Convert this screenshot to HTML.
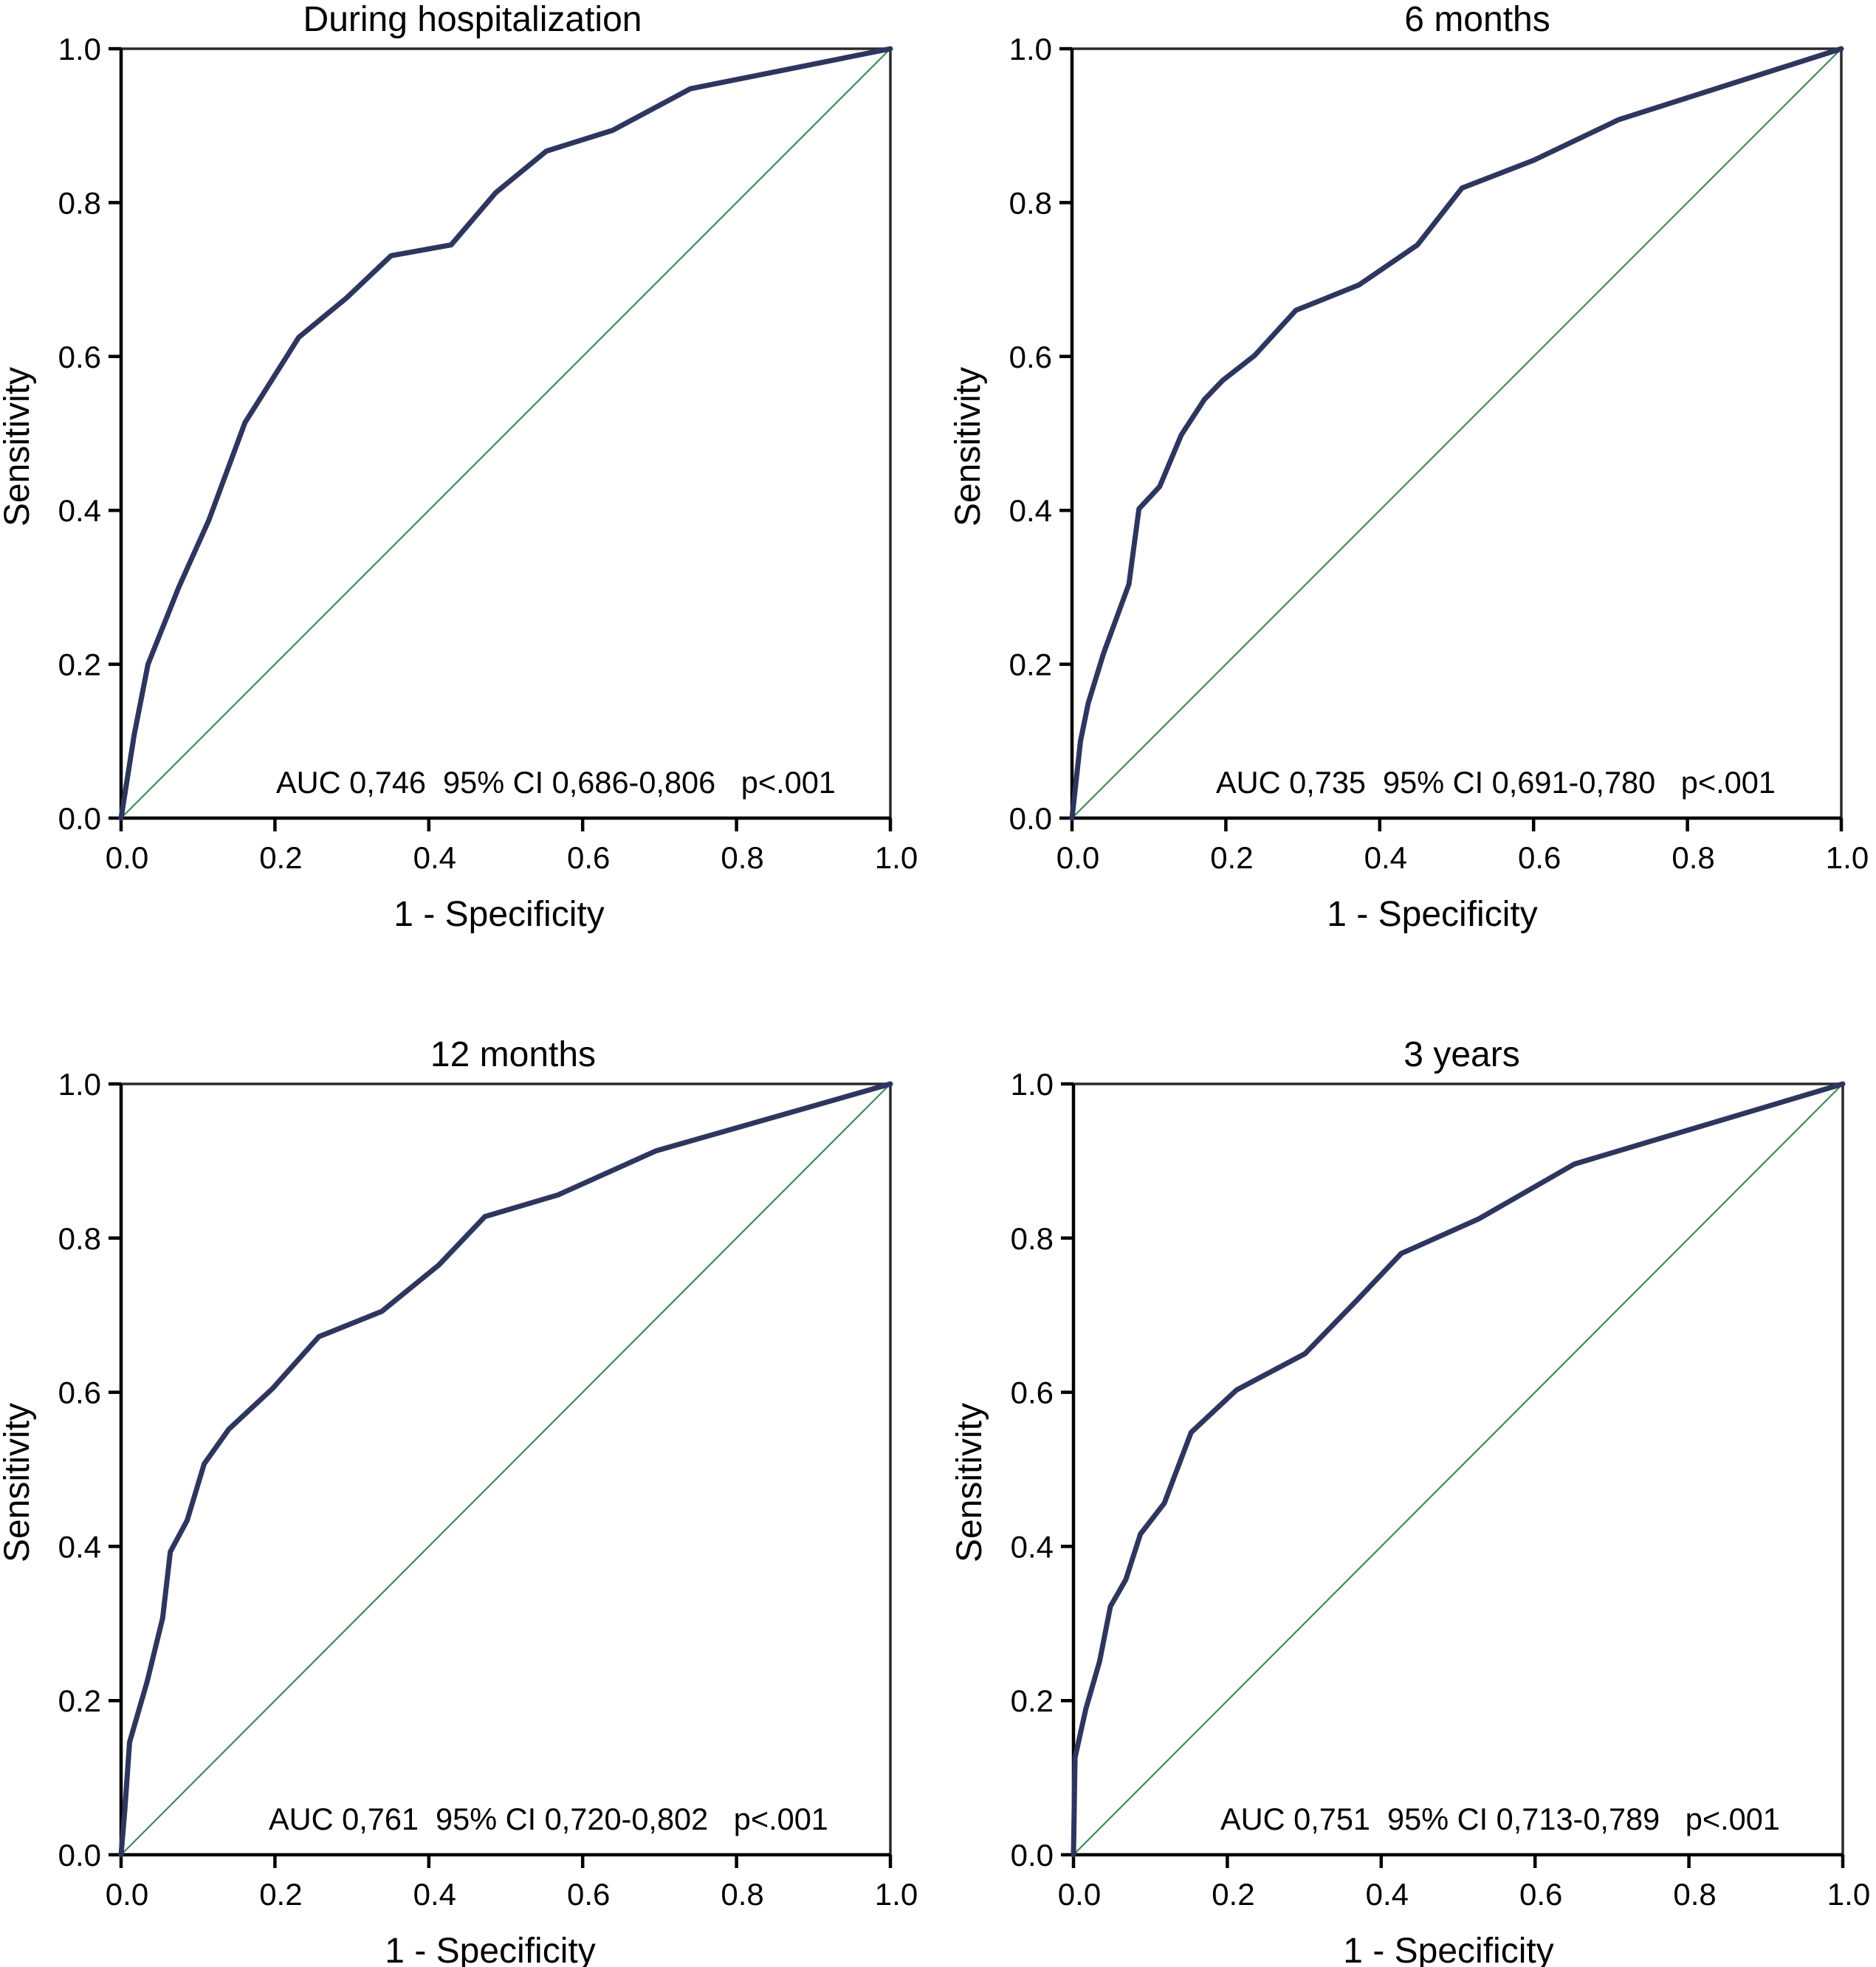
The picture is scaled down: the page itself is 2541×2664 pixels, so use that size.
<!DOCTYPE html>
<html><head><meta charset="utf-8"><style>
html,body{margin:0;padding:0;background:#fff}
svg{display:block}
text{font-family:"Liberation Sans",Arial,sans-serif;fill:#000}
</style></head><body>
<svg id="fig" width="2541" height="2664" viewBox="0 0 2541 2664" xmlns="http://www.w3.org/2000/svg"></svg>
<script>
const panelTitles = ["During hospitalization", "6 months", "12 months", "3 years"];
const aucLabels = ["AUC 0,746  95% CI 0,686-0,806   p<.001", "AUC 0,735  95% CI 0,691-0,780   p<.001", "AUC 0,761  95% CI 0,720-0,802   p<.001", "AUC 0,751  95% CI 0,713-0,789   p<.001"];
const tickValues = [0, 0.2, 0.4, 0.6, 0.8, 1.0];
const tickLabels = ["0.0", "0.2", "0.4", "0.6", "0.8", "1.0"];
const fprHosp = [0, 0.017, 0.035, 0.075, 0.114, 0.161, 0.231, 0.293, 0.351, 0.429, 0.487, 0.553, 0.639, 0.74, 1];
const tprHosp = [0, 0.108, 0.2, 0.3, 0.387, 0.514, 0.625, 0.676, 0.731, 0.745, 0.813, 0.867, 0.894, 0.948, 1];
const fpr6m = [0, 0.011, 0.021, 0.041, 0.074, 0.087, 0.114, 0.142, 0.172, 0.196, 0.237, 0.291, 0.373, 0.449, 0.507, 0.6, 0.711, 1];
const tpr6m = [0, 0.1, 0.149, 0.214, 0.304, 0.402, 0.431, 0.498, 0.544, 0.569, 0.601, 0.66, 0.693, 0.745, 0.819, 0.855, 0.908, 1];
const fpr12m = [0, 0.005, 0.011, 0.034, 0.054, 0.064, 0.086, 0.108, 0.14, 0.197, 0.257, 0.339, 0.413, 0.473, 0.568, 0.695, 1];
const tpr12m = [0, 0.06, 0.146, 0.225, 0.307, 0.393, 0.434, 0.507, 0.552, 0.605, 0.672, 0.705, 0.765, 0.828, 0.856, 0.913, 1];
const fpr3y = [0, 0.002, 0.016, 0.034, 0.048, 0.068, 0.087, 0.118, 0.153, 0.212, 0.301, 0.368, 0.426, 0.527, 0.651, 1];
const tpr3y = [0, 0.126, 0.189, 0.251, 0.322, 0.357, 0.416, 0.456, 0.548, 0.603, 0.65, 0.719, 0.78, 0.825, 0.896, 1];

const fprSeries = [fprHosp, fpr6m, fpr12m, fpr3y];
const tprSeries = [tprHosp, tpr6m, tpr12m, tpr3y];
const boxes = [{x0:164,y0:1108,w:1042,h:1042},{x0:1452,y0:1108,w:1042,h:1042},{x0:164,y0:2512,w:1042,h:1044},{x0:1454,y0:2512,w:1042,h:1044}];
const aucOffsets = [210, 195, 200, 199];
const titleCenters = [640, 2001, 695, 1980];
const xTitleCenters = [676, 1940, 664, 1962];
const NS = "http://www.w3.org/2000/svg";
const svg = document.getElementById('fig');
function mk(tag, attrs, parent){const e=document.createElementNS(NS,tag);for(const k in attrs)e.setAttribute(k,attrs[k]);(parent||svg).appendChild(e);return e;}

boxes.forEach((b,i)=>{
  const g = mk('g',{});
  
  
  const sx = v => b.x0 + v*b.w;
  const sy = v => b.y0 - v*b.h;
  const top = sy(1), right = sx(1);
  const fr = mk('path',{d:`M${sx(0)} ${top} L${right} ${top} L${right} ${sy(0)}`,fill:'none',stroke:'#2a2a2a','stroke-width':3.5},g);
  
  
  const ax = mk('path',{d:`M${sx(0)} ${top} L${sx(0)} ${sy(0)} L${right} ${sy(0)}`,fill:'none',stroke:'#000','stroke-width':4.5},g);
  
  
  tickValues.forEach((t,k)=>{
    const yt = mk('line',{x1:sx(0)-17,x2:sx(0),y1:sy(t),y2:sy(t),stroke:'#000','stroke-width':4.5},g);
    
    
    const xt = mk('line',{x1:sx(t),x2:sx(t),y1:sy(0),y2:sy(0)+18,stroke:'#000','stroke-width':4.5},g);
    
    
    const yl = mk('text',{x:sx(0)-27,y:sy(t)+15,'font-size':42,'text-anchor':'end'},g);
    yl.textContent = tickLabels[k];
    
    
    const xl = mk('text',{x:sx(t)+8,y:sy(0)+68,'font-size':42,'text-anchor':'middle'},g);
    xl.textContent = tickLabels[k];
    
    
  });
  const dg = mk('line',{x1:sx(0),y1:sy(0),x2:sx(1),y2:sy(1),stroke:'#3f8a55','stroke-width':2.2},g);
  
  
  const xs=fprSeries[i], ys=tprSeries[i];
  const d = xs.map((v,k)=>(k?'L':'M')+sx(v).toFixed(1)+' '+sy(ys[k]).toFixed(1)).join(' ');
  const rc = mk('path',{d:d,fill:'none',stroke:'#2d365f','stroke-width':7,'stroke-linejoin':'round','stroke-linecap':'round'},g);
  
  
  const tt = mk('text',{x:titleCenters[i],y:top-24,'font-size':48,'text-anchor':'middle'},g);
  tt.textContent = panelTitles[i];
  
  
  const xtt = mk('text',{x:xTitleCenters[i],y:sy(0)+146,'font-size':48,'text-anchor':'middle'},g);
  xtt.textContent = '1 - Specificity';
  
  
  const cy = sy(0.5)+18, cx = b.x0 - 125;
  const ytt = mk('text',{x:cx,y:cy,'font-size':48,'text-anchor':'middle',transform:`rotate(-90 ${cx} ${cy})`},g);
  ytt.textContent = 'Sensitivity';
  
  
  const at = mk('text',{x:b.x0+aucOffsets[i],y:sy(0)-34,'font-size':41.5},g);
  at.setAttribute('style','white-space:pre');
  at.textContent = aucLabels[i];
  
  
});
</script>
</body></html>
